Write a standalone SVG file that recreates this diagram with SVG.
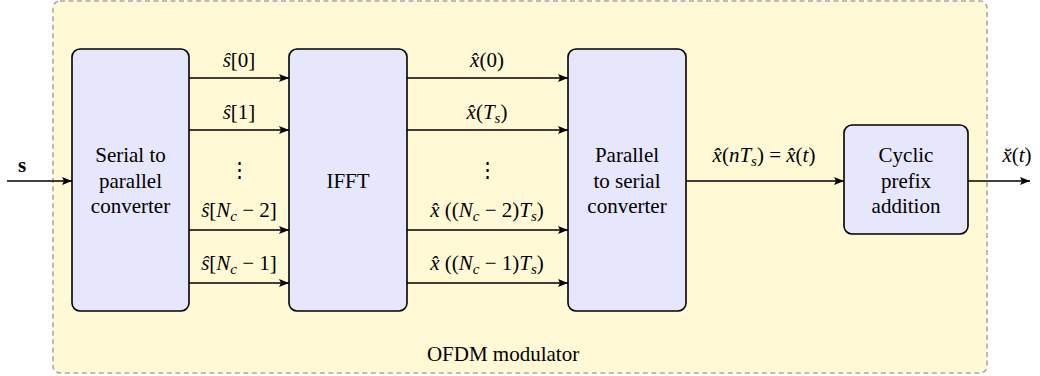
<svg xmlns="http://www.w3.org/2000/svg" width="1040" height="376" viewBox="0 0 1040 376">
<style>
text{font-family:'Liberation Serif','Tinos','DejaVu Serif','Noto Serif',serif;font-size:21px;fill:#000}
.c{text-anchor:middle}
.i{font-style:italic}
.sub{font-size:15px;font-style:italic}
.blk{fill:#E6E6FC;stroke:#000;stroke-width:1.6}
.ln{stroke:#000;stroke-width:1.6;fill:none;marker-end:url(#ah)}
</style>
<defs>
<marker id="ah" viewBox="0 0 10 8" refX="10" refY="4" markerWidth="10" markerHeight="8" markerUnits="userSpaceOnUse" orient="auto">
<path d="M0,0 L10,4 L0,8 L2,4 Z" fill="#000"/>
</marker>
</defs>
<g id="modulator">
<rect x="53" y="1" width="934" height="372" rx="7" fill="#FFF9D6" stroke="#A8A8A8" stroke-width="1.6" stroke-dasharray="5,3.5"/>
<text class="c" x="503" y="361" font-family="Liberation Serif">OFDM modulator</text>
</g>
<g id="connectors">
<line class="ln" x1="7" y1="181" x2="72" y2="181"/>
<line class="ln" x1="189" y1="78" x2="289" y2="78"/>
<line class="ln" x1="189" y1="130" x2="289" y2="130"/>
<line class="ln" x1="189" y1="230" x2="289" y2="230"/>
<line class="ln" x1="189" y1="283" x2="289" y2="283"/>
<line class="ln" x1="407" y1="78" x2="568" y2="78"/>
<line class="ln" x1="407" y1="130" x2="568" y2="130"/>
<line class="ln" x1="407" y1="230" x2="568" y2="230"/>
<line class="ln" x1="407" y1="283" x2="568" y2="283"/>
<line class="ln" x1="686" y1="181" x2="844" y2="181"/>
<line class="ln" x1="968" y1="181" x2="1030" y2="181"/>
<text class="c" x="22" y="172" font-weight="bold">s</text>
<text class="c" x="239" y="67"><tspan class="i">ŝ</tspan>[0]</text>
<text class="c" x="239" y="119"><tspan class="i">ŝ</tspan>[1]</text>
<text class="c" x="239" y="177">⋮</text>
<text class="c" x="239" y="217"><tspan class="i">ŝ</tspan>[<tspan class="i">N</tspan><tspan class="sub" dy="4">c</tspan><tspan dy="-4"> − 2]</tspan></text>
<text class="c" x="239" y="270"><tspan class="i">ŝ</tspan>[<tspan class="i">N</tspan><tspan class="sub" dy="4">c</tspan><tspan dy="-4"> − 1]</tspan></text>
<text class="c" x="487" y="67"><tspan class="i">x̂</tspan>(0)</text>
<text class="c" x="487" y="119"><tspan class="i">x̂</tspan>(<tspan class="i">T</tspan><tspan class="sub" dy="4">s</tspan><tspan dy="-4">)</tspan></text>
<text class="c" x="487" y="177">⋮</text>
<text class="c" x="487" y="217"><tspan class="i">x̂</tspan> ((<tspan class="i">N</tspan><tspan class="sub" dy="4">c</tspan><tspan dy="-4"> − 2)</tspan><tspan class="i">T</tspan><tspan class="sub" dy="4">s</tspan><tspan dy="-4">)</tspan></text>
<text class="c" x="487" y="270"><tspan class="i">x̂</tspan> ((<tspan class="i">N</tspan><tspan class="sub" dy="4">c</tspan><tspan dy="-4"> − 1)</tspan><tspan class="i">T</tspan><tspan class="sub" dy="4">s</tspan><tspan dy="-4">)</tspan></text>
<text class="c" x="764" y="162"><tspan class="i">x̂</tspan>(<tspan class="i">nT</tspan><tspan class="sub" dy="4">s</tspan><tspan dy="-4">) = </tspan><tspan class="i">x̂</tspan>(<tspan class="i">t</tspan>)</text>
<text class="c" x="1017" y="162"><tspan class="i">x̆</tspan>(<tspan class="i">t</tspan>)</text>
</g>
<g id="sp">
<rect class="blk" x="72" y="49" width="117" height="262" rx="8"/>
<text class="c" x="130.5" y="162">Serial to</text>
<text class="c" x="130.5" y="188">parallel</text>
<text class="c" x="130.5" y="213">converter</text>
</g>
<g id="ifft">
<rect class="blk" x="289" y="49" width="118" height="262" rx="8"/>
<text class="c" x="348" y="188">IFFT</text>
</g>
<g id="ps">
<rect class="blk" x="568" y="49" width="118" height="262" rx="8"/>
<text class="c" x="627" y="162">Parallel</text>
<text class="c" x="627" y="188">to serial</text>
<text class="c" x="627" y="213">converter</text>
</g>
<g id="cp">
<rect class="blk" x="844" y="125" width="124" height="109" rx="8"/>
<text class="c" x="906" y="162">Cyclic</text>
<text class="c" x="906" y="188">prefix</text>
<text class="c" x="906" y="213">addition</text>
</g>
</svg>
